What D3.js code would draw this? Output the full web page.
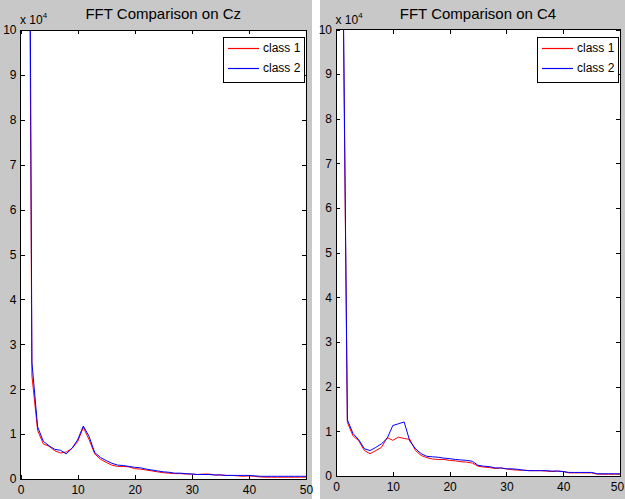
<!DOCTYPE html>
<html><head><meta charset="utf-8">
<script src="https://cdn.jsdelivr.net/npm/d3@7"></script>
<style>
html,body{margin:0;padding:0;background:#fff;}
svg{display:block;}
text{font-family:"Liberation Sans",Arial,sans-serif;fill:#000;}
</style></head>
<body>
<svg id="chart" width="625" height="499"></svg>
<script>
// frequency bins (x)
const freqs = [1,2,3,4,5,6,7,8,9,10,11,12,13,14,15,16,17,18,19,20,21,22,23,24,25,26,27,28,29,30,31,32,33,34,35,36,37,38,39,40,41,42,43,44,45,46,47,48,49,50];
// values in units of 1e4
const czClass1 = [26,2.3,1.08,0.78,0.73,0.63,0.58,0.60,0.68,0.83,1.15,0.88,0.56,0.44,0.37,0.31,0.28,0.28,0.27,0.23,0.22,0.20,0.18,0.16,0.14,0.13,0.12,0.12,0.11,0.11,0.10,0.11,0.11,0.09,0.09,0.08,0.08,0.07,0.06,0.07,0.06,0.045,0.04,0.04,0.04,0.04,0.04,0.04,0.04,0.04];
const czClass2 = [30,2.6,1.16,0.84,0.74,0.66,0.64,0.56,0.68,0.87,1.18,0.95,0.59,0.48,0.41,0.35,0.31,0.30,0.28,0.26,0.25,0.22,0.20,0.18,0.16,0.15,0.13,0.13,0.12,0.11,0.10,0.10,0.10,0.09,0.09,0.08,0.08,0.08,0.08,0.08,0.07,0.06,0.06,0.06,0.06,0.06,0.06,0.06,0.06,0.06];
const c4Class1 = [14,1.2,0.9,0.79,0.57,0.5,0.57,0.64,0.86,0.8,0.87,0.84,0.82,0.57,0.46,0.41,0.38,0.37,0.37,0.35,0.34,0.32,0.31,0.29,0.22,0.2,0.19,0.17,0.18,0.16,0.14,0.13,0.13,0.12,0.12,0.12,0.11,0.10,0.11,0.10,0.07,0.07,0.07,0.07,0.07,0.04,0.04,0.04,0.04,0.04];
const c4Class2 = [14.5,1.26,0.95,0.81,0.61,0.57,0.64,0.72,0.84,1.13,1.17,1.21,0.78,0.61,0.5,0.44,0.43,0.42,0.40,0.39,0.37,0.36,0.35,0.33,0.24,0.22,0.21,0.18,0.18,0.16,0.16,0.15,0.13,0.12,0.12,0.12,0.12,0.11,0.11,0.10,0.08,0.08,0.08,0.08,0.08,0.05,0.05,0.05,0.05,0.05];
const xTicks = [0,10,20,30,40,50];
const yTicks = [0,1,2,3,4,5,6,7,8,9,10];
const seriesNames = ["class 1","class 2"];
const seriesColors = ["#ff0000","#0000ff"];
const titles = ["FFT Comparison on Cz","FFT Comparison on C4"];

const svg = d3.select("#chart");

function panel(idx, bg, box, title, s1, s2){
  const g = svg.append("g");
  g.append("rect").attr("x",bg.x).attr("y",bg.y).attr("width",bg.w).attr("height",bg.h).attr("fill","#c8c8c8");
  const x = d3.scaleLinear().domain([0,50]).range([box.x0, box.x1]);
  const y = d3.scaleLinear().domain([0,10]).range([box.y1, box.y0]);
  g.append("rect").attr("x",box.x0).attr("y",box.y0).attr("width",box.x1-box.x0).attr("height",box.y1-box.y0).attr("fill","#fff");
  const cid = "clip"+idx;
  g.append("clipPath").attr("id",cid).append("rect").attr("x",box.x0).attr("y",box.y0).attr("width",box.x1-box.x0).attr("height",box.y1-box.y0);
  const line = d3.line().x((d,i)=>x(freqs[i])).y(d=>y(d));
  [s1,s2].forEach((s,k)=>{
    g.append("path").datum(s).attr("d",line).attr("fill","none").style("stroke",seriesColors[k]).attr("stroke-width",1).attr("clip-path","url(#"+cid+")");
  });
  const fs = 12;
  const ax = g.append("g").attr("transform","translate(0,"+box.y1+")")
    .call(d3.axisBottom(x).tickValues(xTicks).tickSize(-4).tickPadding(6).tickFormat(d3.format("d")));
  const axT = g.append("g").attr("transform","translate(0,"+box.y0+")")
    .call(d3.axisTop(x).tickValues(xTicks).tickSize(-4).tickFormat(""));
  const ay = g.append("g").attr("transform","translate("+box.x0+",0)")
    .call(d3.axisLeft(y).tickValues(yTicks).tickSize(-4).tickPadding(4).tickFormat(d3.format("d")));
  const ayR = g.append("g").attr("transform","translate("+box.x1+",0)")
    .call(d3.axisRight(y).tickValues(yTicks).tickSize(-4).tickFormat(""));
  [ax,axT,ay,ayR].forEach(a=>{
    a.select(".domain").remove();
    a.selectAll(".tick line").attr("stroke","#000").attr("shape-rendering","crispEdges");
    a.selectAll("text").attr("font-size",fs).attr("fill","#000")
      .style("font-family","'Liberation Sans',Arial,sans-serif");
  });
  if (box.x1 > 615) {
    ax.selectAll(".tick text").filter(d=>d===50).attr("dx",-3);
  }
  g.append("rect").attr("x",box.x0).attr("y",box.y0).attr("width",box.x1-box.x0).attr("height",box.y1-box.y0)
    .attr("fill","none").attr("stroke","#000").attr("shape-rendering","crispEdges");
  // exponent label
  const ex = g.append("text").attr("x",box.x0-0.5).attr("y",box.y0-6).attr("font-size",12);
  ex.append("tspan").text("x 10");
  ex.append("tspan").attr("dy",-6).attr("font-size",8).text("4");
  // title
  g.append("text").attr("x",(box.x0+box.x1)/2).attr("y",19).attr("text-anchor","middle").attr("font-size",15).text(title);
  // legend
  const lw = 81, lh = 45;
  const lx = Math.round(box.x1-2-lw), ly = Math.round(box.y0+7);
  const lg = g.append("g");
  lg.append("rect").attr("x",lx+0.5).attr("y",ly+0.5).attr("width",lw).attr("height",lh).attr("fill","#fff").attr("stroke","#000");
  seriesNames.forEach((n,k)=>{
    const yy = ly+11+k*20;
    lg.append("line").attr("x1",lx+5).attr("x2",lx+36).attr("y1",yy+0.5).attr("y2",yy+0.5)
      .style("stroke",seriesColors[k]).style("stroke-width","1.2px");
    lg.append("text").attr("x",lx+40).attr("y",yy+4).attr("font-size",12).text(n);
  });
}

panel(0,{x:0,y:0,w:312,h:499},{x0:20.5,x1:306,y0:30,y1:479},titles[0],czClass1,czClass2);
panel(1,{x:320,y:0,w:305,h:499},{x0:336,x1:620,y0:29.5,y1:476},titles[1],c4Class1,c4Class2);
</script>
</body></html>
